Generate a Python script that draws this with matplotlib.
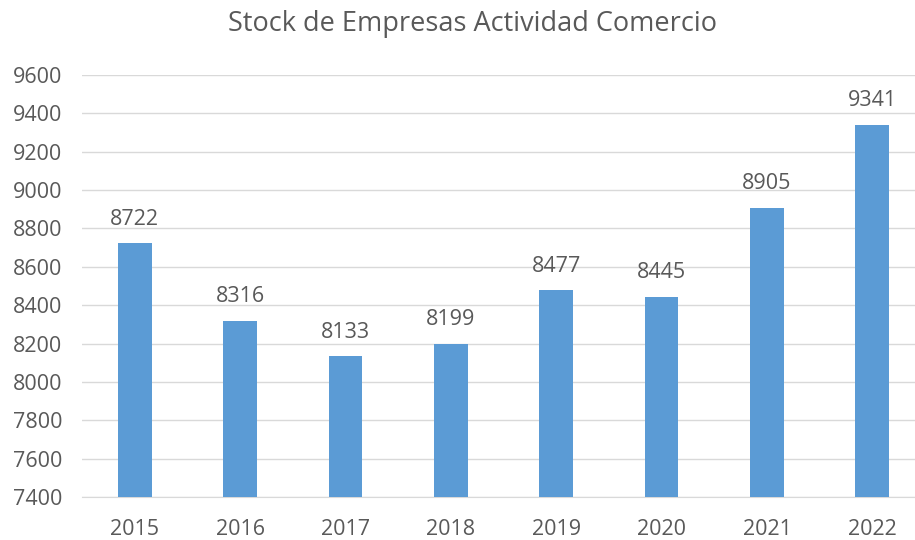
import matplotlib
matplotlib.use("Agg")
import matplotlib.pyplot as plt

years = ["2015", "2016", "2017", "2018", "2019", "2020", "2021", "2022"]
values = [8722, 8316, 8133, 8199, 8477, 8445, 8905, 9341]
yticks = list(range(7400, 9601, 200))

plt.rcParams['font.family'] = ['Open Sans', 'DejaVu Sans']
fig = plt.figure(figsize=(9.15, 5.40), dpi=100)
ax = fig.add_axes([82 / 915, 43 / 540, 843 / 915, 422 / 540])

bar_color = "#5B9BD5"
txt = "#595959"
x = range(len(years))
ax.bar(x, values, width=0.32, color=bar_color, zorder=3)
for xi, v in zip(x, values):
    ax.annotate(str(v), (xi, v), xytext=(0, 10), textcoords="offset points",
                ha="center", va="bottom", fontsize=15.5, color=txt)

ax.set_ylim(7400, 9600)
ax.set_xlim(-0.5, len(years) - 0.5)
ax.set_yticks(yticks)
ax.set_xticks(list(x))
ax.set_xticklabels(years)
ax.yaxis.grid(True, color="#D9D9D9", linewidth=1, zorder=0)
for s in ["top", "right", "left"]:
    ax.spines[s].set_visible(False)
ax.spines["bottom"].set_color("#D9D9D9")
ax.tick_params(axis="both", length=0, labelsize=15.5, colors=txt)
ax.tick_params(axis="x", pad=16)
ax.tick_params(axis="y", pad=14)

fig.text(473 / 915, 1 - 24 / 540, "Stock de Empresas Actividad Comercio",
         ha="center", va="center", fontsize=19.5, color=txt)
fig.savefig("out.png", dpi=100)
